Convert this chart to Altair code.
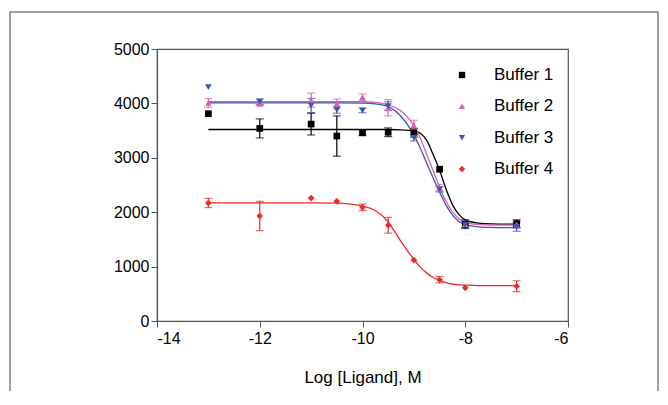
import altair as alt
import pandas as pd

# ---- data ----
SERIES = ["Buffer 1", "Buffer 2", "Buffer 3", "Buffer 4"]
COLORS = ["#000000", "#dd5fb0", "#3a58b0", "#ee2a2a"]
SHAPES = ["square", "triangle-up", "triangle-down", "diamond"]

LOG_X = [-13, -12, -11, -10.5, -10, -9.5, -9, -8.5, -8, -7]
B1 = [3810, 3540, 3620, 3400, 3460, 3470, 3460, 2790, 1780, 1790]
B2 = [4010, 3990, 4060, 3990, 4110, 3920, 3590, 2450, 1780, 1770]
B3 = [4300, 4030, 3960, 3880, 3870, 3950, 3370, 2420, 1770, 1730]
B4 = [2170, 1930, 2260, 2200, 2090, 1760, 1120, 760, 610, 640]

E1 = [0, 175, 200, 370, 50, 80, 80, 0, 80, 70]
E2 = [80, 30, 130, 90, 60, 150, 100, 60, 60, 70]
E3 = [0, 50, 130, 60, 40, 80, 60, 50, 60, 80]
E4 = [85, 270, 0, 0, 60, 145, 0, 60, 0, 100]

CURVE_X = [-13, -12, -11, -10.5, -10, -9.75, -9.5, -9.25, -9, -8.875, -8.75,
           -8.625, -8.5, -8.375, -8.25, -8.125, -8, -7.75, -7.5, -7]
C1 = [3520, 3520, 3520, 3520, 3520, 3520, 3520, 3515, 3495, 3450, 3320,
      3060, 2770, 2430, 2140, 1960, 1860, 1800, 1785, 1780]
C2 = [4030, 4030, 4030, 4030, 4030, 4020, 3975, 3860, 3590, 3360, 3060,
      2760, 2460, 2200, 2010, 1880, 1810, 1775, 1765, 1760]
C3 = [4010, 4010, 4010, 4010, 4005, 3990, 3940, 3760, 3420, 3180, 2900,
      2630, 2370, 2130, 1950, 1830, 1770, 1730, 1720, 1715]
C4 = [2170, 2170, 2170, 2165, 2110, 2030, 1820, 1460, 1130, 990, 880,
      800, 745, 705, 680, 665, 660, 652, 650, 650]

X_TICKS = [-14, -12, -10, -8, -6]
Y_TICKS = [0, 1000, 2000, 3000, 4000, 5000]

# ---- tables ----
pts_rows, curve_rows = [], []
for name, ys, es in zip(SERIES, [B1, B2, B3, B4], [E1, E2, E3, E4]):
    for x, y, e in zip(LOG_X, ys, es):
        pts_rows.append({"series": name, "x": x, "y": y, "lo": y - e, "hi": y + e, "err": e})
for name, ys in zip(SERIES, [C1, C2, C3, C4]):
    for x, y in zip(CURVE_X, ys):
        curve_rows.append({"series": name, "x": x, "y": y})
pts = pd.DataFrame(pts_rows)
curves = pd.DataFrame(curve_rows)
errs = pts[pts["err"] > 0]
leg = pd.DataFrame({"series": SERIES})

FONT = "Liberation Sans"
xscale = alt.Scale(domain=[-14, -6], nice=False, zero=False)
yscale = alt.Scale(domain=[0, 5000], nice=False)
cscale = alt.Scale(domain=SERIES, range=COLORS)
sscale = alt.Scale(domain=SERIES, range=SHAPES)
color = alt.Color("series:N", scale=cscale, legend=None)
shape = alt.Shape("series:N", scale=sscale, legend=None)

xaxis = alt.Axis(values=X_TICKS, title="Log [Ligand], M", grid=False, tickSize=6,
                 labelFontSize=16, titleFontSize=17, titleFontWeight="normal",
                 titlePadding=23, labelPadding=3, labelExpr="'' + datum.value")
yaxis = alt.Axis(values=Y_TICKS, title=None, grid=False, tickSize=6,
                 labelFontSize=16, labelPadding=2, labelExpr="'' + datum.value")

lines = alt.Chart(curves).mark_line(interpolate="monotone", strokeWidth=1.3).encode(
    x=alt.X("x:Q", scale=xscale, axis=xaxis),
    y=alt.Y("y:Q", scale=yscale, axis=yaxis),
    color=color,
    detail="series:N",
)

bars = alt.Chart(errs).mark_errorbar(ticks={"size": 8, "thickness": 1.2}, thickness=1.2).encode(
    x=alt.X("x:Q", scale=xscale),
    y=alt.Y("lo:Q", scale=yscale, title=None),
    y2="hi:Q",
    color=color,
)

points = alt.Chart(pts).mark_point(filled=True, size=45, opacity=1).encode(
    x=alt.X("x:Q", scale=xscale),
    y=alt.Y("y:Q", scale=yscale),
    color=color,
    shape=shape,
)

frame = alt.Chart(pd.DataFrame({"a": [0]})).mark_rect(
    fill=None, stroke="#808080", strokeWidth=1.5
).encode(
    x=alt.value(-147), x2=alt.value(501), y=alt.value(-37), y2=alt.value(400)
)

main = alt.layer(frame, lines, bars, points)

legy = alt.Y("series:N", scale=alt.Scale(type="point", domain=SERIES, range=[26, 120], padding=0),
             axis=None)
leg_pts = alt.Chart(leg).mark_point(filled=True, size=40, opacity=1).encode(
    x=alt.value(305), y=legy, color=color, shape=shape
)
leg_txt = alt.Chart(leg).mark_text(
    align="left", baseline="middle", fontSize=17, font=FONT, color="#000000"
).encode(x=alt.value(337), y=legy, text="series:N")
legend = alt.layer(leg_pts, leg_txt)

chart = alt.layer(main, legend).resolve_scale(y="independent").properties(
    width=411, height=272,
    autosize=alt.AutoSizeParams(type="none"),
    padding={"left": 149, "top": 41, "right": 92, "bottom": 70},
).configure_view(stroke="#555555", strokeWidth=1.2).configure_axis(
    domainColor="#555555", tickColor="#555555", labelColor="#000000",
    titleColor="#000000", labelFont=FONT, titleFont=FONT, domainWidth=1.2
)

chart.save("out.html", embed_options={"renderer": "svg", "actions": False})
